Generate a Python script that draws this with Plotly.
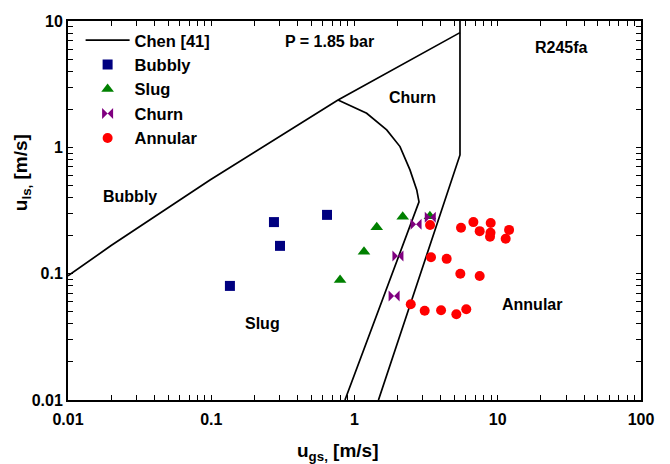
import plotly.graph_objects as go

# ---- data ----
bubbly_x = [0.135, 0.274, 0.302, 0.643]
bubbly_y = [0.080, 0.256, 0.166, 0.292]

slug_x = [0.793, 1.165, 1.43, 2.17, 3.36]
slug_y = [0.089, 0.149, 0.233, 0.282, 0.285]

churn_x = [1.89, 2.01, 2.69, 3.38]
churn_y = [0.0665, 0.138, 0.246, 0.280]

annular_x = [3.37, 5.54, 6.76, 7.48, 8.93, 8.9, 8.83, 12.0, 11.36,
             3.42, 4.40, 5.48, 7.48, 2.47, 3.09, 4.02, 5.14, 6.03]
annular_y = [0.243, 0.231, 0.256, 0.217, 0.252, 0.211, 0.196, 0.222, 0.189,
             0.135, 0.131, 0.100, 0.0959, 0.0572, 0.0509, 0.0513, 0.0477, 0.0523]

# Chen [41] transition boundaries
chen1_x = [0.01, 0.02, 0.098, 0.767, 5.45]
chen1_y = [0.096, 0.167, 0.552, 2.37, 8.09]
chen2_x = [0.767, 1.216, 1.678, 2.078, 2.439, 2.72, 2.82, 0.858]
chen2_y = [2.37, 1.862, 1.374, 1.014, 0.663, 0.460, 0.370, 0.01]
chen3_x = [5.45, 5.45, 1.47]
chen3_y = [10.0, 0.871, 0.01]

x_decades = [0.01, 0.1, 1, 10, 100]
x_labels = ["0.01", "0.1", "1", "10", "100"]
y_decades = [0.01, 0.1, 1, 10]
y_labels = ["0.01", "0.1", "1", "10"]
minor_mults = [2, 3, 4, 5, 6, 7, 8, 9]

def build_ticks(decades, labels):
    vals, texts = [], []
    for d, lab in zip(decades, labels):
        vals.append(d)
        texts.append(lab)
        if d != decades[-1]:
            for m in minor_mults:
                vals.append(d * m)
                texts.append("")
    return vals, texts

x_tickvals, x_ticktext = build_ticks(x_decades, x_labels)
y_tickvals, y_ticktext = build_ticks(y_decades, y_labels)

FONT = "Liberation Sans, Arial, sans-serif"

fig = go.Figure()
line_style = dict(color="black", width=1.7)
fig.add_trace(go.Scatter(x=chen1_x, y=chen1_y, mode="lines", line=line_style,
                         name="Chen [41]", showlegend=True))
fig.add_trace(go.Scatter(x=chen2_x, y=chen2_y, mode="lines", line=line_style,
                         showlegend=False))
fig.add_trace(go.Scatter(x=chen3_x, y=chen3_y, mode="lines", line=line_style,
                         showlegend=False))

fig.add_trace(go.Scatter(x=bubbly_x, y=bubbly_y, mode="markers", name="Bubbly",
                         marker=dict(symbol="square", size=10, color="#000080")))
fig.add_trace(go.Scatter(x=slug_x, y=slug_y, mode="markers", name="Slug",
                         marker=dict(symbol="triangle-up", size=11, color="#008000")))
fig.add_trace(go.Scatter(x=churn_x, y=churn_y, mode="markers", name="Churn",
                         marker=dict(symbol="bowtie", size=11, color="#800080")))
fig.add_trace(go.Scatter(x=annular_x, y=annular_y, mode="markers", name="Annular",
                         marker=dict(symbol="circle", size=10, color="#FF0000")))

axis_common = dict(
    type="log", showgrid=False, zeroline=False,
    showline=True, linecolor="black", linewidth=2, mirror="allticks",
    ticks="inside", ticklen=5, tickwidth=1, tickcolor="black",
    tickmode="array",
    tickfont=dict(family=FONT, size=16, color="black", weight="bold"),
)
fig.update_xaxes(range=[-2, 2], tickvals=x_tickvals, ticktext=x_ticktext,
                 ticklabelstandoff=4, **axis_common)
fig.update_yaxes(range=[-2, 1], tickvals=y_tickvals, ticktext=y_ticktext,
                 **axis_common)

fig.update_layout(
    width=670, height=464,
    margin=dict(l=68, r=29, t=21, b=64),
    paper_bgcolor="white", plot_bgcolor="white",
    font=dict(family=FONT, color="black"),
    legend=dict(x=0.022, y=0.995, xanchor="left", yanchor="top",
                bgcolor="rgba(0,0,0,0)", borderwidth=0, itemwidth=44,
                font=dict(family=FONT, size=16.5, color="black", weight="bold"),
                tracegroupgap=0),
)

def ann(text, x, y, size=16, **kw):
    fig.add_annotation(text=text, x=x, y=y, xref="paper", yref="paper",
                       showarrow=False, xanchor="center", yanchor="middle",
                       font=dict(family=FONT, size=size, color="black", weight="bold"),
                       **kw)

ann("P = 1.85 bar", 0.457, 0.947)
ann("R245fa", 0.862, 0.931)
ann("Churn", 0.602, 0.797)
ann("Bubbly", 0.108, 0.538)
ann("Slug", 0.339, 0.201)
ann("Annular", 0.810, 0.253)
ann("u<sub>gs,</sub> [m/s]", 0.471, -0.138, size=19)
ann("u<sub>ls,</sub> [m/s]", -0.080, 0.599, size=19, textangle=-90)

fig.write_html("out.html")
